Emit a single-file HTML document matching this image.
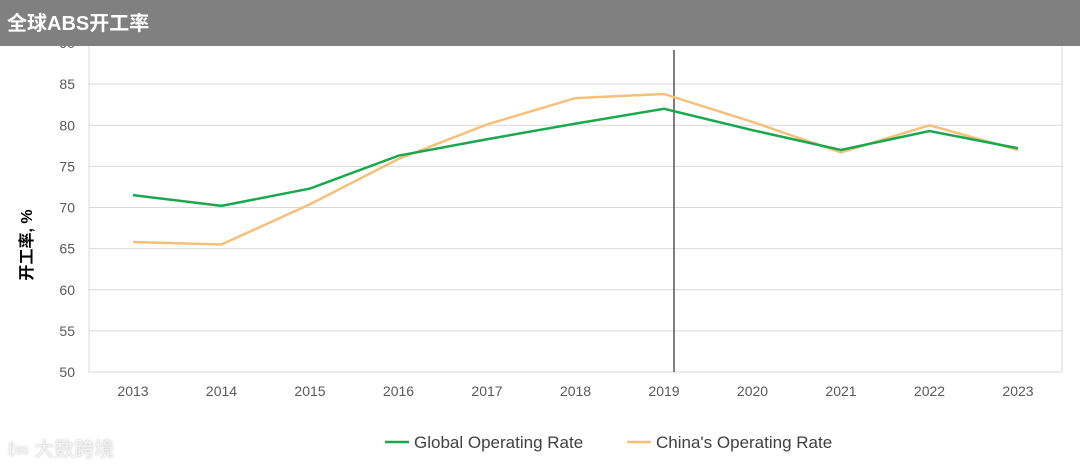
<!DOCTYPE html>
<html><head><meta charset="utf-8"><style>
body{margin:0;width:1080px;height:469px;background:#fff;overflow:hidden;font-family:"Liberation Sans","Noto Sans CJK SC",sans-serif;position:relative}
#hdr{position:absolute;left:0;top:0;width:1080px;height:46px;background:#808080;color:#fff;font-weight:bold;font-size:20px}
</style></head><body>
<svg id="c" width="1080" height="469" style="position:absolute;left:0;top:0"></svg>
<div id="hdr"><div style="position:absolute;left:7px;top:7px">全球ABS开工率</div></div>
<div style="position:absolute;left:8px;top:433px;font-size:20px;color:#f4f4f4;text-shadow:0 0 2px #bbb">ℓ∞ 大数跨境</div>
<script>
const years=["2013","2014","2015","2016","2017","2018","2019","2020","2021","2022","2023"];
const globalRate=[71.5,70.2,72.3,76.3,78.3,80.2,82,79.4,77,79.3,77.2];
const chinaRate=[65.8,65.5,70.4,75.9,80.1,83.3,83.8,80.4,76.7,80,77];
const yTicks=[50,55,60,65,70,75,80,85,90];
const NS="http://www.w3.org/2000/svg",s=document.getElementById('c');
const L=89,R=1062,T=43,B=372;
const x=i=>133+i*88.5, y=v=>B-(v-50)/40*(B-T);
function mk(t,a,txt){const e=document.createElementNS(NS,t);for(const k in a)e.setAttribute(k,a[k]);if(txt!==undefined)e.textContent=txt;s.appendChild(e);return e;}
yTicks.forEach(v=>{const g=mk('line',{x1:L,x2:R,y1:y(v),y2:y(v),stroke:'#d9d9d9','stroke-width':1});


const t=mk('text',{x:75,y:y(v)+5,'text-anchor':'end','font-size':14,fill:'#595959'},v);

});
const fr=mk('rect',{x:L,y:T,width:R-L,height:B-T,fill:'none',stroke:'#d9d9d9'});


years.forEach((yr,i)=>{const t=mk('text',{x:x(i),y:396,'text-anchor':'middle','font-size':14,fill:'#595959'},yr);

});
const vl=mk('line',{x1:x(6)+10,x2:x(6)+10,y1:50,y2:B,stroke:'#555','stroke-width':1.5});


function line(d,c,n){const p=mk('polyline',{points:d.map((v,i)=>x(i)+','+y(v)).join(' '),fill:'none',stroke:c,'stroke-width':2.5});

}
line(chinaRate,'#f5c07a','china-rate-line');
line(globalRate,'#1aa84f','global-rate-line');
const yt=mk('text',{x:0,y:0,transform:'translate(32,245) rotate(-90)','text-anchor':'middle','font-size':16,'font-weight':'bold',fill:'#000'},'开工率, %');


[['Global Operating Rate','#1aa84f',385],['China\'s Operating Rate','#f5c07a',627]].forEach(([n,c,lx],k)=>{
const l=mk('line',{x1:lx,x2:lx+24,y1:442,y2:442,stroke:c,'stroke-width':2.5});


const t=mk('text',{x:lx+29,y:448,'font-size':17,fill:'#404040'},n);

});
</script>
</body></html>
